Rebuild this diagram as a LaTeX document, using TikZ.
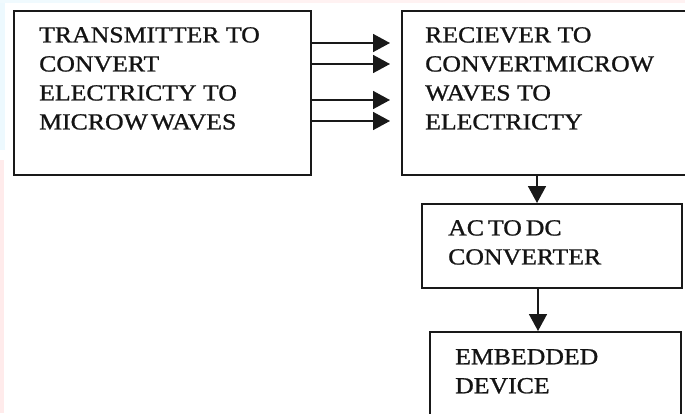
\documentclass[tikz,border=0pt]{standalone}
\usepackage{fontspec}
\setmainfont{Liberation Serif}[FakeStretch=1.12,FakeBold=1]
\usetikzlibrary{arrows.meta,calc}
\begin{document}
\begin{tikzpicture}[x=1pt,y=-1pt,
  box/.style={draw=black!90,line width=1.7pt,anchor=north west,inner sep=0pt},
  lbl/.style={anchor=north west,inner sep=0pt,align=left,
    font=\fontsize{23}{29}\selectfont,text=black!92},
  arr/.style={line width=1.6pt,draw=black!90,
    -{Triangle[length=17pt,width=18pt]}}]
\useasboundingbox (0,0) rectangle (685,413);
\clip (0,0) rectangle (685,413);
% faint background tints
\fill[cyan!7] (0,0) rectangle (5,150);
\fill[red!8] (0,160) rectangle (4,413);
\fill[red!5] (100,0) rectangle (685,3);
\fill[cyan!6] (0,0) rectangle (100,3);
% boxes
\node[box,minimum width=297pt,minimum height=164pt] (t) at (13,10) {};
\node[box,minimum width=300pt,minimum height=164pt] (r) at (401,10) {};
\node[box,minimum width=260pt,minimum height=84pt] (c) at (421,203) {};
\node[box,minimum width=251pt,minimum height=120pt] (e) at (429,331) {};
% texts
\node[lbl] (tt) at ($(t.north west)+(26,17)$) {TRANSMITTER TO\\CONVERT\\ELECTRICTY TO\\MICROW\hspace{3pt}WAVES};
\node[lbl] (rt) at ($(r.north west)+(24,17)$) {RECIEVER TO\\CONVERTMICROW\\WAVES TO\\ELECTRICTY};
\node[lbl] (ct) at ($(c.north west)+(27,17)$) {AC\hspace{4pt}TO\hspace{4pt}DC\\CONVERTER};
\node[lbl] (et) at ($(e.north west)+(26,18)$) {EMBEDDED\\DEVICE};
% connectors
\foreach \yy in {43,64,100,121}
  \draw[arr,shorten >=11pt] (t.east|-{0,\yy}) -- (r.west|-{0,\yy});
\draw[arr] (r.south-|{537,0}) -- (c.north-|{537,0});
\draw[arr] (c.south-|{538,0}) -- (e.north-|{538,0});
\end{tikzpicture}
\end{document}
